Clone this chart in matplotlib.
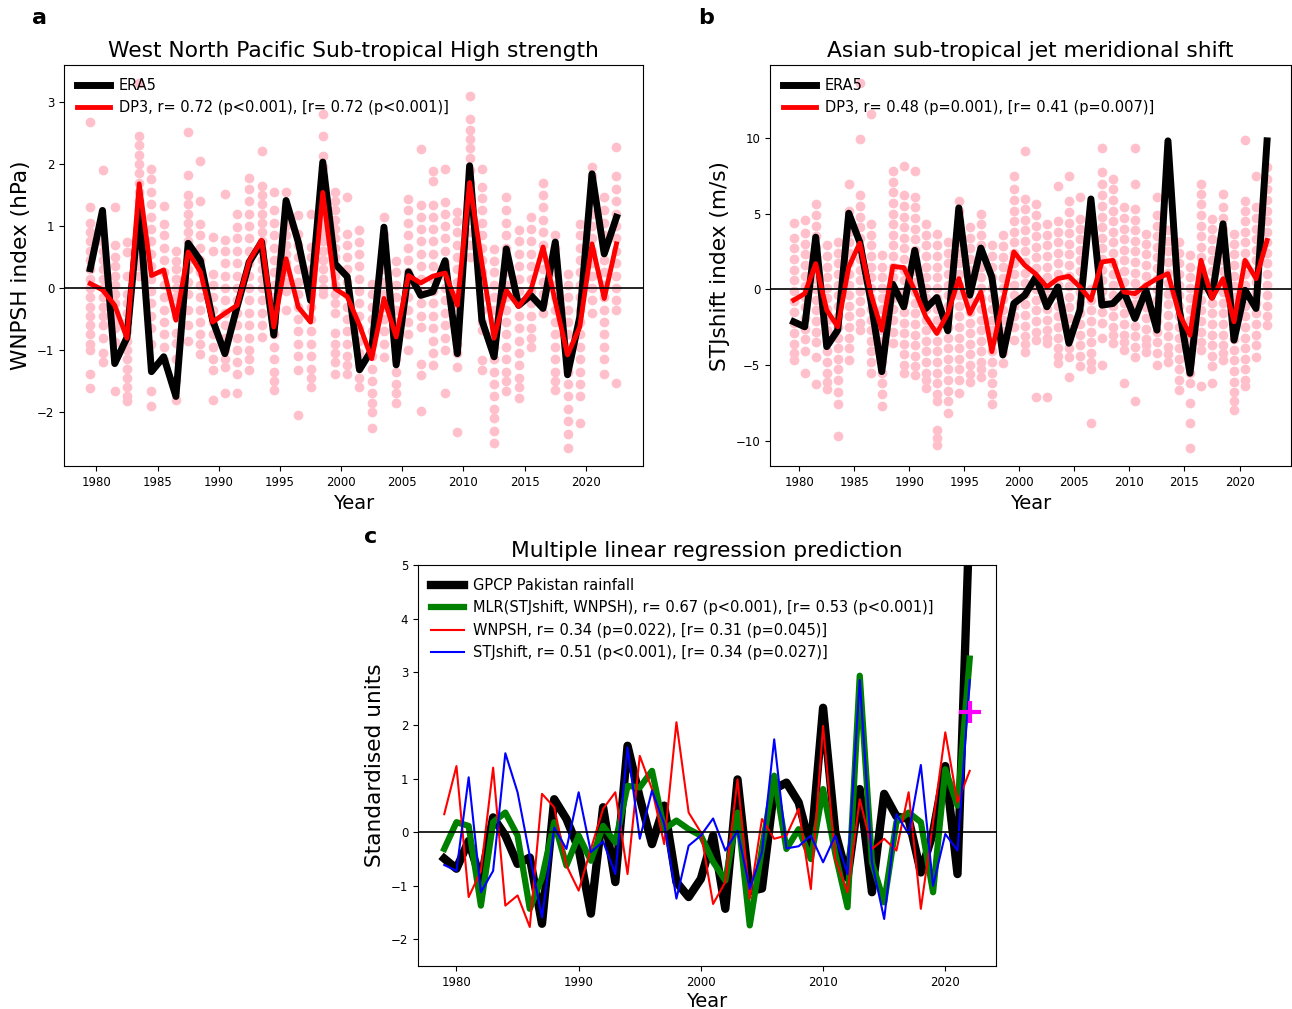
import numpy as np
import matplotlib
matplotlib.use("Agg")
import matplotlib.pyplot as plt

years = np.arange(1979, 2023)          # 1979 ... 2022
yrs_mid = years + 0.5                   # panels a/b are plotted at mid-year

# ---- panel a : WNPSH strength (hPa)
era5_a = [0.31, 1.25, -1.22, -0.8, 1.3, -1.35, -1.11, -1.75, 0.72, 0.44,
          -0.52, -1.06, -0.3, 0.42, 0.74, -0.76, 1.41, 0.74, -0.2, 2.03,
          0.39, 0.18, -1.32, -1.0, 0.98, -1.24, 0.26, -0.12, -0.06, 0.44,
          -1.06, 1.97, -0.52, -1.11, 0.63, -0.28, -0.12, -0.33, 0.74, -1.4,
          -0.47, 1.84, 0.55, 1.14]
dp3_a = [0.07, -0.03, -0.28, -0.81, 1.68, 0.2, 0.29, -0.52, 0.58, 0.26,
         -0.55, -0.41, -0.28, 0.44, 0.77, -0.63, 0.47, -0.31, -0.55, 1.54,
         -0.01, -0.14, -0.6, -1.14, -0.17, -0.79, 0.2, 0.08, 0.19, 0.24,
         -0.28, 1.7, 0.4, -0.81, -0.04, -0.3, -0.04, 0.66, -0.22, -1.08,
         -0.63, 0.71, -0.17, 0.71]
# DP3 ensemble members (pink dots), one list per year
ens_a = [
    [2.68, 1.3, 1.05, 0.9, 0.75, 0.6, 0.45, 0.3, 0.15, 0.0, -0.15, -0.3, -0.45, -0.6, -0.75, -0.9, -1.0, -1.38, -1.62],
    [1.9, 0.74, 0.6, 0.45, 0.3, 0.15, 0.0, -0.15, -0.3, -0.45, -0.6, -0.8, -1.05, -1.2],
    [1.3, 0.69, 0.5, 0.35, 0.2, 0.05, -0.1, -0.25, -0.4, -0.55, -0.65, -0.87, -1.66],
    [0.74, 0.58, 0.2, -0.1, -0.25, -0.4, -0.55, -0.7, -0.85, -1.0, -1.15, -1.3, -1.45, -1.6, -1.75, -1.83],
    [3.3, 2.45, 2.3, 2.15, 2.0, 1.85, 1.7, 1.55, 1.4, 1.25, 1.1, 0.95, 0.8, 0.65, 0.5, 0.35, 0.2],
    [1.92, 1.75, 1.55, 1.35, 1.15, 0.95, 0.75, 0.55, 0.35, 0.15, -0.05, -0.25, -0.45, -0.65, -0.9, -1.67, -1.91],
    [1.32, 1.03, 0.85, 0.65, 0.45, 0.25, 0.05, -0.15, -0.35, -0.55, -0.75, -0.95, -1.16],
    [0.6, 0.44, 0.3, 0.15, 0.0, -0.15, -0.3, -0.45, -0.73, -0.88, -1.14, -1.48, -1.8],
    [2.52, 1.82, 1.5, 1.35, 1.2, 1.05, 0.9, 0.75, 0.6, 0.45, 0.3, 0.1, -0.1, -0.35, -0.6, -0.85],
    [2.05, 1.41, 1.03, 0.85, 0.65, 0.45, 0.25, 0.05, -0.15, -0.35, -0.55, -0.75, -0.9, -1.06],
    [0.82, 0.6, 0.23, 0.05, -0.15, -0.35, -0.55, -0.75, -0.95, -1.15, -1.32, -1.8],
    [1.52, 0.77, 0.6, 0.4, 0.2, 0.0, -0.2, -0.4, -0.6, -0.8, -1.0, -1.15, -1.27, -1.7],
    [1.2, 0.98, 0.8, 0.6, 0.4, 0.2, 0.0, -0.2, -0.4, -0.6, -0.8, -1.0, -1.2, -1.38, -1.7],
    [1.78, 1.6, 1.4, 1.2, 1.0, 0.8, 0.6, 0.4, 0.2, 0.0, -0.2, -0.4, -0.6, -0.8, -1.0, -1.15, -1.32],
    [2.21, 1.65, 1.5, 1.35, 1.2, 1.05, 0.9, 0.75, 0.6, 0.45, 0.3, 0.15, 0.0, -0.2, -0.4, -0.6, -0.79],
    [1.54, 1.25, 1.05, 0.85, 0.65, 0.45, 0.25, 0.05, -0.15, -0.35, -0.55, -0.75, -0.95, -1.15, -1.35, -1.5, -1.65],
    [1.54, 1.3, 1.15, 1.0, 0.85, 0.7, 0.55, 0.4, 0.25, 0.1, -0.05, -0.36],
    [1.17, 0.87, 0.7, 0.5, 0.3, 0.1, -0.1, -0.3, -0.5, -0.7, -0.9, -1.1, -1.32, -2.05],
    [1.2, 0.66, 0.5, 0.3, 0.1, -0.1, -0.3, -0.5, -0.7, -0.9, -1.1, -1.3, -1.45, -1.6],
    [2.8, 2.45, 2.13, 1.95, 1.8, 1.65, 1.5, 1.35, 1.2, 1.05, 0.9, 0.75, 0.6, 0.45, 0.3, 0.15, 0.0, -0.1],
    [1.54, 1.4, 1.25, 1.1, 0.95, 0.8, 0.65, 0.5, 0.35, 0.2, 0.05, -0.1, -0.25, -0.4, -0.73, -0.9, -1.05, -1.2, -1.38],
    [1.46, 0.87, 0.7, 0.5, 0.3, 0.1, -0.1, -0.3, -0.5, -0.7, -0.9, -1.1, -1.25, -1.38],
    [0.93, 0.74, 0.55, 0.35, 0.15, -0.05, -0.25, -0.45, -0.65, -0.85, -1.05, -1.25, -1.45, -1.6],
    [0.07, -0.1, -0.3, -0.5, -0.7, -0.9, -1.1, -1.3, -1.5, -1.7, -1.85, -2.0, -2.26],
    [1.14, 0.87, 0.7, 0.5, 0.3, 0.1, -0.1, -0.3, -0.5, -0.7, -0.9, -1.11],
    [0.44, 0.25, 0.05, -0.15, -0.35, -0.55, -0.75, -0.95, -1.15, -1.35, -1.55, -1.7, -1.86],
    [1.44, 1.25, 1.05, 0.85, 0.65, 0.45, 0.25, 0.05, -0.15, -0.35, -0.55, -0.75, -1.0],
    [2.24, 1.33, 1.15, 0.95, 0.75, 0.55, 0.35, 0.15, -0.05, -0.25, -0.45, -0.63, -1.22, -1.4, -1.99],
    [1.89, 1.73, 1.33, 1.15, 0.95, 0.75, 0.55, 0.35, 0.15, -0.05, -0.25, -0.45, -0.65, -0.85, -1.05, -1.24],
    [1.92, 1.38, 1.2, 1.0, 0.8, 0.6, 0.4, 0.2, 0.0, -0.2, -0.4, -0.6, -0.8, -1.0, -1.7],
    [1.22, 1.08, 0.9, 0.7, 0.5, 0.3, 0.1, -0.1, -0.3, -0.5, -0.7, -0.9, -1.05, -1.27, -2.33],
    [3.1, 2.72, 2.55, 2.4, 2.25, 2.1, 1.9, 1.7, 1.5, 1.3, 1.1, 0.9, 0.7, 0.5],
    [1.92, 1.62, 1.45, 1.25, 1.05, 0.85, 0.65, 0.45, 0.25, 0.05, -0.15, -0.35, -0.55, -0.68, -1.16, -1.32],
    [0.63, 0.44, 0.25, 0.05, -0.15, -0.35, -0.55, -0.75, -0.95, -1.15, -1.35, -1.55, -1.75, -1.95, -2.1, -2.3, -2.5],
    [1.46, 1.25, 1.05, 0.85, 0.65, 0.45, 0.25, 0.05, -0.15, -0.35, -0.55, -0.75, -0.95, -1.15, -1.35, -1.5, -1.67],
    [0.93, 0.75, 0.55, 0.35, 0.15, -0.05, -0.25, -0.45, -0.65, -0.85, -1.05, -1.25, -1.45, -1.6, -1.78],
    [1.14, 0.95, 0.75, 0.55, 0.35, 0.15, -0.05, -0.25, -0.45, -0.65, -0.8, -0.95],
    [1.7, 1.5, 1.3, 1.1, 0.9, 0.7, 0.5, 0.3, 0.1, -0.1, -0.25, -0.41],
    [0.85, 0.65, 0.45, 0.25, 0.05, -0.15, -0.35, -0.55, -0.75, -0.95, -1.15, -1.35, -1.5, -1.65],
    [0.23, 0.05, -0.15, -0.35, -0.55, -0.75, -0.95, -1.15, -1.35, -1.55, -1.75, -1.95, -2.15, -2.35, -2.58],
    [1.03, 0.85, 0.65, 0.45, 0.25, 0.05, -0.15, -0.35, -0.55, -0.75, -0.95, -1.15, -1.35, -1.55, -1.75, -2.18],
    [1.95, 1.8, 1.6, 1.4, 1.2, 1.0, 0.8, 0.6, 0.4, 0.2, 0.0, -0.2, -0.41],
    [1.46, 1.25, 1.05, 0.85, 0.65, 0.45, 0.25, 0.05, -0.15, -0.35, -0.55, -0.75, -0.95, -1.15, -1.38],
    [2.27, 1.8, 1.6, 1.4, 1.2, 1.0, 0.8, 0.6, 0.4, 0.2, 0.0, -0.2, -0.35, -1.54],
]

# ---- panel b : STJ meridional shift (m/s)
era5_b = [-2.15, -2.48, 3.44, -3.79, -2.7, 5.02, 3.11, -0.72, -5.44, 0.33,
          -1.16, 2.57, -1.27, -0.55, -2.74, 5.37, -0.39, 2.72, 0.81, -4.34,
          -0.94, -0.39, 0.81, -1.16, 0.15, -3.57, -1.38, 5.96, -1.05, -0.94,
          -0.18, -1.93, -0.07, -2.7, 9.8, -1.2, -5.55, 0.92, -0.5, 4.32,
          -3.36, -0.07, -1.27, 9.8]
dp3_b = [-0.72, -0.29, 1.69, -1.38, -2.48, 1.47, 3.05, -0.29, -2.7, 1.51,
         1.43, -0.07, -1.82, -2.92, -1.6, 0.7, -1.6, -0.18, -4.12, -0.8,
         2.46, 1.58, 1.0, 0.15, 0.7, 0.86, 0.15, -0.72, 1.8, 1.91,
         -0.18, -0.29, 0.26, 0.7, 1.03, -1.6, -3.03, 1.91, -0.61, 0.7,
         -2.15, 1.91, 0.7, 3.22]
ens_b = [
    [4.4, 3.4, 2.7, 2.0, 1.3, 0.6, -0.1, -0.8, -1.5, -2.2, -2.9, -3.6, -4.2, -4.7],
    [4.6, 3.7, 3.0, 2.3, 1.6, 0.9, 0.2, -0.5, -1.2, -1.9, -2.6, -3.3, -4.1, -5.55],
    [5.6, 4.9, 4.2, 3.5, 2.8, 2.1, 1.4, 0.7, 0.0, -0.7, -1.4, -2.1, -2.8, -3.5, -4.45, -6.25],
    [2.9, 2.2, 1.5, 0.8, 0.1, -0.6, -1.3, -2.0, -2.7, -3.4, -4.1, -4.8, -5.5, -6.1, -6.6],
    [3.1, 2.4, 1.7, 1.0, 0.3, -0.4, -1.1, -1.8, -2.5, -3.2, -3.9, -4.6, -5.3, -6.0, -6.8, -7.6, -9.67],
    [6.95, 5.2, 4.5, 3.8, 3.1, 2.4, 1.7, 1.0, 0.3, -0.4, -1.1, -1.8, -2.5, -3.2, -3.9, -4.7],
    [13.6, 9.9, 6.2, 5.5, 4.8, 4.1, 3.4, 2.7, 2.0, 1.3, 0.6, -0.1, -0.8, -1.5, -2.2, -2.7],
    [11.55, 4.3, 3.6, 2.9, 2.2, 1.5, 0.8, 0.1, -0.6, -1.3, -2.0, -2.7, -3.4, -4.1, -4.8, -5.55],
    [2.24, 1.5, 0.8, 0.1, -0.6, -1.3, -2.0, -2.7, -3.4, -4.1, -4.8, -5.5, -6.2, -6.9, -7.74],
    [7.83, 7.1, 6.4, 5.7, 5.0, 4.3, 3.6, 2.9, 2.2, 1.5, 0.8, 0.1, -0.6, -1.3, -2.0, -2.8, -3.57],
    [8.16, 6.2, 5.5, 4.8, 4.1, 3.4, 2.7, 2.0, 1.3, 0.6, -0.1, -0.8, -1.5, -2.2, -2.9, -3.6, -4.3, -5.0, -5.55],
    [7.83, 6.1, 5.4, 4.7, 4.0, 3.3, 2.6, 1.9, 1.2, 0.5, -0.2, -0.9, -1.6, -2.3, -3.0, -3.7, -4.4, -5.1, -5.66],
    [4.3, 3.6, 2.9, 2.2, 1.5, 0.8, 0.1, -0.6, -1.3, -2.0, -2.7, -3.4, -4.1, -4.8, -5.5, -6.0, -6.54],
    [3.66, 2.9, 2.2, 1.5, 0.8, 0.1, -0.6, -1.3, -2.0, -2.7, -3.4, -4.1, -4.8, -5.5, -6.2, -6.9, -7.4, -9.3, -9.8, -10.26],
    [3.1, 2.4, 1.7, 1.0, 0.3, -0.4, -1.1, -1.8, -2.5, -3.2, -3.9, -4.6, -5.3, -6.0, -6.7, -7.4, -8.2],
    [5.86, 5.2, 4.5, 3.8, 3.1, 2.4, 1.7, 1.0, 0.3, -0.4, -1.1, -1.8, -2.5, -3.2, -3.9, -4.6, -5.3, -6.0, -6.86],
    [4.1, 3.4, 2.7, 2.0, 1.3, 0.6, -0.1, -0.8, -1.5, -2.2, -2.9, -3.6, -4.3, -5.0, -5.6, -6.1],
    [5.0, 4.3, 3.6, 2.9, 2.2, 1.5, 0.8, 0.1, -0.6, -1.3, -2.0, -2.7, -3.4, -4.1, -4.8, -5.3, -5.8],
    [2.9, 2.2, 1.5, 0.8, 0.1, -0.6, -1.3, -2.0, -2.7, -3.4, -4.1, -4.8, -5.5, -6.2, -6.9, -7.6],
    [3.55, 2.85, 2.15, 1.45, 0.75, 0.05, -0.65, -1.35, -2.05, -2.75, -3.45, -4.15, -4.89],
    [7.5, 6.6, 5.9, 5.2, 4.5, 3.8, 3.1, 2.4, 1.7, 1.0, 0.3, -0.4, -1.1, -1.8, -2.5, -3.36],
    [9.14, 5.96, 5.3, 4.6, 3.9, 3.2, 2.5, 1.8, 1.1, 0.4, -0.3, -1.0, -1.7, -2.4, -3.1, -3.6, -4.12],
    [5.6, 4.9, 4.2, 3.5, 2.8, 2.1, 1.4, 0.7, 0.0, -0.7, -1.4, -2.1, -2.8, -3.36, -7.1],
    [4.3, 3.6, 2.9, 2.2, 1.5, 0.8, 0.1, -0.6, -1.3, -2.0, -2.7, -3.2, -3.57, -7.13],
    [6.84, 4.5, 3.8, 3.1, 2.4, 1.7, 1.0, 0.3, -0.4, -1.1, -1.8, -2.5, -3.2, -3.9, -4.4, -4.89],
    [7.5, 5.85, 5.1, 4.4, 3.7, 3.0, 2.3, 1.6, 0.9, 0.2, -0.5, -1.2, -1.9, -2.6, -3.3, -3.9, -4.45, -5.77],
    [6.1, 4.65, 4.0, 3.3, 2.6, 1.9, 1.2, 0.5, -0.2, -0.9, -1.6, -2.3, -3.0, -3.7, -4.4, -5.1],
    [0.0, -0.7, -1.4, -2.1, -2.8, -3.5, -4.2, -4.8, -5.3, -8.84],
    [9.36, 7.72, 6.95, 6.2, 5.5, 4.8, 4.1, 3.4, 2.7, 2.0, 1.3, 0.6, -0.1, -0.8, -1.5, -2.26, -3.25, -5.0],
    [7.28, 6.6, 5.9, 5.2, 4.5, 3.8, 3.1, 2.4, 1.7, 1.0, 0.3, -0.4, -1.1, -1.8, -2.5, -3.0, -3.57],
    [5.42, 4.7, 4.0, 3.3, 2.6, 1.9, 1.2, 0.5, -0.2, -0.9, -1.6, -2.3, -3.0, -3.5, -4.0, -6.2],
    [9.36, 6.95, 5.3, 4.6, 3.9, 3.2, 2.5, 1.8, 1.1, 0.4, -0.3, -1.0, -1.7, -2.4, -3.1, -3.8, -4.45, -7.4],
    [3.66, 3.0, 2.3, 1.6, 0.9, 0.2, -0.5, -1.2, -1.9, -2.6, -3.3, -3.7, -4.12],
    [6.07, 4.87, 4.2, 3.5, 2.8, 2.1, 1.4, 0.7, 0.0, -0.7, -1.4, -2.1, -2.8, -3.5, -4.2, -5.0],
    [3.88, 3.2, 2.5, 1.8, 1.1, 0.4, -0.3, -1.0, -1.7, -2.4, -3.1, -3.8, -4.3, -4.78],
    [3.1, 2.4, 1.7, 1.0, 0.3, -0.4, -1.1, -1.8, -2.5, -3.2, -3.9, -4.6, -5.3, -6.0, -6.64],
    [2.24, 1.5, 0.8, 0.1, -0.6, -1.3, -2.0, -2.7, -3.4, -4.1, -4.8, -5.5, -6.2, -7.5, -8.84, -10.48],
    [6.95, 6.3, 5.6, 4.9, 4.2, 3.5, 2.8, 2.1, 1.4, 0.7, 0.0, -0.7, -1.4, -2.1, -2.8, -3.5, -4.0, -6.4],
    [4.65, 4.0, 3.3, 2.6, 1.9, 1.2, 0.5, -0.2, -0.9, -1.6, -2.3, -3.0, -3.7, -4.4, -5.1, -6.2],
    [6.3, 5.42, 4.7, 4.0, 3.3, 2.6, 1.9, 1.2, 0.5, -0.2, -0.9, -1.6, -2.3, -3.0, -3.7, -4.2, -4.67],
    [3.66, 3.0, 2.3, 1.6, 0.9, 0.2, -0.5, -1.2, -1.9, -2.6, -3.3, -4.0, -4.7, -5.4, -6.1, -6.8, -7.4, -7.96],
    [9.85, 5.86, 5.2, 4.5, 3.8, 3.1, 2.4, 1.7, 1.0, 0.3, -0.4, -1.1, -1.8, -2.5, -3.2, -3.9, -4.6, -5.3, -6.0, -6.4],
    [7.5, 5.42, 4.7, 4.0, 3.3, 2.6, 1.9, 1.2, 0.5, -0.2, -0.9, -1.6, -2.3, -3.0, -3.7, -4.45],
    [8.05, 7.3, 6.6, 5.9, 5.2, 4.5, 3.8, 3.1, 2.4, 1.7, 1.0, 0.3, -0.4, -1.1, -1.8, -2.37],
]

# ---- panel c : standardised series
gpcp = [-0.49, -0.68, -0.16, -0.9, 0.28, -0.06, -0.59, -0.47, -1.71, 0.62,
        0.25, -0.31, -1.52, 0.47, -0.93, 1.62, 0.65, -0.22, 0.5, -0.93,
        -1.21, -0.87, -0.06, -1.43, 0.99, -1.1, -1.05, 0.81, 0.93, 0.56,
        -0.3, 2.33, 0.0, -0.85, 0.81, -1.12, 0.72, 0.3, 0.25, -0.75,
        0.0, 1.24, -0.78, 6.0]
mlr = [-0.31, 0.19, 0.12, -1.37, 0.19, 0.37, -0.06, -1.43, -0.85, 0.19,
       -0.62, -0.06, -0.53, 0.12, -0.19, 0.87, 0.84, 1.15, 0.06, 0.22,
       0.06, -0.06, -0.55, -0.9, 0.37, -1.74, -0.3, 1.06, -0.31, 0.06,
       -0.5, 0.81, -0.4, -1.4, 2.93, -0.56, -1.31, 0.19, 0.37, 0.19,
       -1.12, 1.18, 0.5, 3.25]
wnpsh = [0.34, 1.24, -1.21, -0.72, 1.21, -1.37, -1.18, -1.77, 0.72, 0.47,
         -0.62, -1.09, -0.31, 0.44, 0.75, -0.78, 1.43, 0.81, -0.22, 2.06,
         0.37, 0.0, -1.34, -0.93, 0.99, -1.24, 0.25, -0.12, -0.06, 0.44,
         -1.06, 1.99, -0.5, -1.12, 0.62, -0.31, -0.12, -0.34, 0.75, -1.43,
         0.19, 1.87, 0.56, 1.15]
stjshift = [-0.61, -0.72, 1.03, -1.12, -0.72, 1.48, 0.75, -0.44, -1.59, 0.09,
            -0.31, 0.75, -0.37, -0.17, -0.78, 1.59, -0.12, 0.78, 0.16, -1.24,
            -0.25, -0.06, 0.26, -0.34, 0.03, -1.06, -0.37, 1.74, -0.3, -0.26,
            -0.06, -0.56, -0.06, -0.78, 2.85, -0.56, -1.62, 0.34, -0.03, 1.26,
            -1.0, -0.03, -0.34, 2.85]
pred_year = 2022
pred_value = 2.26

fig = plt.figure(figsize=(12.92, 10.09), dpi=100)
ax_a = fig.add_axes([0.0495, 0.538, 0.448, 0.3975])
ax_b = fig.add_axes([0.596, 0.538, 0.403, 0.3975])
ax_c = fig.add_axes([0.3235, 0.0426, 0.4474, 0.3974])

legend_kw = dict(loc="upper left", frameon=False, fontsize=10.5,
                 handlelength=2.25, handletextpad=0.6)


def ensemble_panel(ax, ens, era5, dp3, label, title, ylabel):
    for x, members in zip(yrs_mid, ens):
        ax.scatter([x] * len(members), members, color="pink")
    ax.plot(yrs_mid, era5, color="black", lw=5, label="ERA5")
    ax.plot(yrs_mid, dp3, color="red", lw=3.5, label=label)
    ax.axhline(0, color="black", lw=1.2)
    ax.set_xticks(range(1980, 2021, 5))
    ax.tick_params(labelsize=8.5)
    ax.legend(**legend_kw)
    ax.set_title(title, fontsize=15.7)
    ax.set_xlabel("Year", fontsize=14)
    ax.set_ylabel(ylabel, fontsize=15.6)


ensemble_panel(ax_a, ens_a, era5_a, dp3_a,
               "DP3, r= 0.72 (p<0.001), [r= 0.72 (p<0.001)]",
               "West North Pacific Sub-tropical High strength",
               "WNPSH index (hPa)")
ensemble_panel(ax_b, ens_b, era5_b, dp3_b,
               "DP3, r= 0.48 (p=0.001), [r= 0.41 (p=0.007)]",
               "Asian sub-tropical jet meridional shift",
               "STJshift index (m/s)")

# panel c
ax_c.plot(years, gpcp, color="black", lw=6, label="GPCP Pakistan rainfall")
ax_c.plot(years, mlr, color="green", lw=4.5,
          label="MLR(STJshift, WNPSH), r= 0.67 (p<0.001), [r= 0.53 (p<0.001)]")
ax_c.plot(years, wnpsh, color="red", lw=1.5,
          label="WNPSH, r= 0.34 (p=0.022), [r= 0.31 (p=0.045)]")
ax_c.plot(years, stjshift, color="blue", lw=1.5,
          label="STJshift, r= 0.51 (p<0.001), [r= 0.34 (p=0.027)]")
ax_c.plot(pred_year, pred_value, marker="+", color="magenta", ms=16, mew=3)
ax_c.axhline(0, color="black", lw=1.2)
ax_c.set_ylim(-2.5, 5)
ax_c.tick_params(labelsize=8.5)
ax_c.legend(**legend_kw)
ax_c.set_title("Multiple linear regression prediction", fontsize=15.7)
ax_c.set_xlabel("Year", fontsize=14, labelpad=2)
ax_c.set_ylabel("Standardised units", fontsize=15.6)

# panel letters
fig.text(0.025, 0.982, "a", fontsize=16, fontweight="bold", va="center")
fig.text(0.540, 0.982, "b", fontsize=16, fontweight="bold", va="center")
fig.text(0.282, 0.468, "c", fontsize=16, fontweight="bold", va="center")

plt.savefig("out.png", dpi=100)
